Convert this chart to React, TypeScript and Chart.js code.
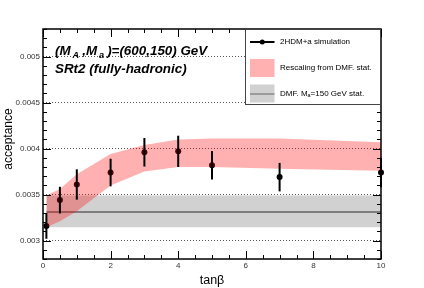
import React, { useEffect, useRef } from "react";
import { Chart, registerables } from "chart.js";

Chart.register(...registerables);

// ---- data ----
const tanBeta = [0.1, 0.5, 1, 2, 3, 4, 5, 7, 10];
const acceptance = [0.00316, 0.00344, 0.00361, 0.00374, 0.00396, 0.00397, 0.00382, 0.00369, 0.00374];
const acceptanceErr = [0.00014, 0.000145, 0.000165, 0.00015, 0.000155, 0.00017, 0.000155, 0.000155, 0.00016];
const rescaleUpper = [0.00349, 0.00356, 0.00372, 0.00394, 0.00404, 0.0041, 0.00411, 0.00411, 0.00407];
const rescaleLower = [0.003145, 0.00321, 0.00332, 0.0036, 0.00375, 0.0038, 0.0038, 0.00378, 0.00376];
const dmfX = [0.1, 10];
const dmfCenter = [0.00331, 0.00331];
const dmfUpper = [0.00349, 0.00349];
const dmfLower = [0.003145, 0.003145];
const xMajorTicks = [0, 2, 4, 6, 8, 10];
const yMajorTicks = [0.003, 0.0035, 0.004, 0.0045, 0.005];
const xMin = 0;
const xMax = 10;
const yMin = 0.0028;
const yMax = 0.0053;
const xMinorStep = 0.5;
const yMinorStep = 0.0001;

const FONT = '"Liberation Sans", Arial, Helvetica, sans-serif';

const pts = (xs: number[], ys: number[]) => xs.map((x, i) => ({ x, y: ys[i] }));

function drawRich(ctx: CanvasRenderingContext2D, parts: [string, boolean][], x: number, y: number, size: number, style: string, subGap = 0) {
  let cx = x;
  for (const [text, sub] of parts) {
    const s = sub ? size * 0.68 : size;
    ctx.font = `${style} ${s}px ${FONT}`;
    if (sub) cx += subGap * 0.4;
    ctx.fillText(text, cx, sub ? y + size * 0.28 : y);
    cx += ctx.measureText(text).width;
    if (sub) cx += subGap * 0.6;
  }
}

const rootStyle = {
  id: "rootStyle",
  afterDatasetsDraw(chart: any) {
    const { ctx, chartArea: a, scales } = chart;
    const xs = scales.x;
    const ys = scales.y;
    ctx.save();
    // error bars
    ctx.strokeStyle = "#000";
    ctx.lineWidth = 2;
    tanBeta.forEach((t, i) => {
      const px = xs.getPixelForValue(t);
      ctx.beginPath();
      ctx.moveTo(px, ys.getPixelForValue(acceptance[i] - acceptanceErr[i]));
      ctx.lineTo(px, ys.getPixelForValue(acceptance[i] + acceptanceErr[i]));
      ctx.stroke();
    });
    // frame
    ctx.lineWidth = 1.5;
    ctx.strokeRect(a.left, a.top, a.right - a.left, a.bottom - a.top);
    // ticks
    ctx.lineWidth = 1;
    ctx.strokeStyle = "#000";
    const kx0 = Math.ceil(xMin / xMinorStep - 1e-6);
    const kx1 = Math.floor(xMax / xMinorStep + 1e-6);
    for (let k = kx0; k <= kx1; k++) {
      const v = k * xMinorStep;
      const major = xMajorTicks.some((m) => Math.abs(m - v) < 1e-9);
      const len = major ? 8 : 4;
      const px = Math.round(xs.getPixelForValue(v)) + 0.5;
      ctx.beginPath();
      ctx.moveTo(px, a.bottom);
      ctx.lineTo(px, a.bottom - len);
      ctx.moveTo(px, a.top);
      ctx.lineTo(px, a.top + len);
      ctx.stroke();
    }
    const ky0 = Math.ceil(yMin / yMinorStep - 1e-6);
    const ky1 = Math.floor(yMax / yMinorStep + 1e-6);
    for (let k = ky0; k <= ky1; k++) {
      const v = k * yMinorStep;
      const major = yMajorTicks.some((m) => Math.abs(m - v) < 1e-9);
      const len = major ? 8 : 4;
      const py = Math.round(ys.getPixelForValue(v)) + 0.5;
      ctx.beginPath();
      ctx.moveTo(a.left, py);
      ctx.lineTo(a.left + len, py);
      ctx.moveTo(a.right, py);
      ctx.lineTo(a.right - len, py);
      ctx.stroke();
    }
    ctx.restore();
  },
  afterDraw(chart: any) {
    const { ctx, chartArea: a } = chart;
    ctx.save();
    // y-axis title
    ctx.save();
    ctx.translate(8.5, (a.top + a.bottom) / 2 - 5);
    ctx.rotate(-Math.PI / 2);
    ctx.textAlign = "center";
    ctx.textBaseline = "middle";
    ctx.fillStyle = "#000";
    ctx.font = `12px ${FONT}`;
    ctx.fillText("acceptance", 0, 0);
    ctx.restore();

    // annotation text
    ctx.fillStyle = "#000";
    ctx.textBaseline = "alphabetic";
    ctx.textAlign = "left";
    drawRich(ctx, [["(M", false], ["A", true], [",M", false], ["a", true], [")=(600,150) GeV", false]], a.left + 12, 54.5, 13.4, "italic bold", 5);
    drawRich(ctx, [["SRt2 (fully-hadronic)", false]], a.left + 12, 73, 13.4, "italic bold");

    // legend
    const lw = 136;
    const lh = 76;
    const lx = a.right - lw;
    const ly = a.top;
    ctx.fillStyle = "#fff";
    ctx.fillRect(lx, ly, lw, lh);
    ctx.strokeStyle = "#444";
    ctx.lineWidth = 1;
    ctx.strokeRect(lx + 0.5, ly + 0.5, lw - 1, lh - 1);

    const sx = lx + 5;
    const sw = 24.5;
    const tx = lx + 35;
    // item 1
    const y1 = ly + 13;
    ctx.strokeStyle = "#000";
    ctx.lineWidth = 2;
    ctx.beginPath();
    ctx.moveTo(sx, y1);
    ctx.lineTo(sx + sw, y1);
    ctx.stroke();
    ctx.fillStyle = "#000";
    ctx.beginPath();
    ctx.arc(sx + sw / 2, y1, 2.5, 0, Math.PI * 2);
    ctx.fill();
    ctx.textBaseline = "middle";
    drawRich(ctx, [["2HDM+a simulation", false]], tx, y1, 8, "normal");
    // item 2
    const y2 = ly + 39;
    ctx.fillStyle = "rgba(255,0,0,0.31)";
    ctx.fillRect(sx, y2 - 9, sw, 18);
    ctx.fillStyle = "#000";
    drawRich(ctx, [["Rescaling from DMF. stat.", false]], tx, y2, 8, "normal");
    // item 3
    const y3 = ly + 64.5;
    ctx.fillStyle = "rgba(0,0,0,0.18)";
    ctx.fillRect(sx, y3 - 9, sw, 18);
    ctx.strokeStyle = "#666";
    ctx.lineWidth = 1;
    ctx.beginPath();
    ctx.moveTo(sx, y3 + 0.5);
    ctx.lineTo(sx + sw, y3 + 0.5);
    ctx.stroke();
    ctx.fillStyle = "#000";
    drawRich(ctx, [["DMF. M", false], ["a", true], ["=150 GeV stat.", false]], tx, y3, 8, "normal");
    ctx.restore();
  },
};

export default function App() {
  const ref = useRef<HTMLCanvasElement | null>(null);
  useEffect(() => {
    document.body.style.margin = "0";
    const canvas = ref.current;
    if (!canvas) return;
    const band = { showLine: true, pointRadius: 0, pointHoverRadius: 0, borderWidth: 0, tension: 0 };
    const chart = new Chart(canvas, {
      type: "scatter",
      data: {
        datasets: [
          { ...band, label: "rescaleUpper", data: pts(tanBeta, rescaleUpper), fill: "+1", backgroundColor: "rgba(255,0,0,0.31)", borderColor: "rgba(0,0,0,0)" },
          { ...band, label: "rescaleLower", data: pts(tanBeta, rescaleLower), fill: false, borderColor: "rgba(0,0,0,0)" },
          { ...band, label: "dmfUpper", data: pts(dmfX, dmfUpper), fill: "+1", backgroundColor: "rgba(0,0,0,0.18)", borderColor: "rgba(0,0,0,0)" },
          { ...band, label: "dmfLower", data: pts(dmfX, dmfLower), fill: false, borderColor: "rgba(0,0,0,0)" },
          { ...band, label: "dmfCenter", data: pts(dmfX, dmfCenter), fill: false, borderColor: "#777", borderWidth: 1.5 },
          {
            label: "2HDM+a simulation",
            data: pts(tanBeta, acceptance),
            showLine: false,
            clip: false,
            pointRadius: 3,
            pointHoverRadius: 3,
            backgroundColor: "#000",
            borderColor: "#000",
            borderWidth: 0,
          },
        ],
      } as any,
      options: {
        responsive: false,
        animation: false,
        events: [],
        layout: { padding: { top: 29, right: 43, left: 0, bottom: 0 } },
        plugins: { legend: { display: false }, tooltip: { enabled: false } },
        scales: {
          x: {
            type: "linear",
            min: xMin,
            max: xMax,
            afterBuildTicks: (s: any) => {
              s.ticks = xMajorTicks.map((v) => ({ value: v }));
            },
            afterFit: (s: any) => {
              s.height = 29;
            },
            grid: { display: false, drawTicks: false },
            border: { display: false },
            ticks: { font: { size: 8, family: FONT }, color: "#333", padding: 2, maxRotation: 0, callback: (v: any) => String(v) },
            title: { display: true, text: "tanβ", font: { size: 12.5, family: FONT }, color: "#000", padding: 0 },
          },
          y: {
            type: "linear",
            min: yMin,
            max: yMax,
            afterBuildTicks: (s: any) => {
              s.ticks = yMajorTicks.map((v) => ({ value: v }));
            },
            afterFit: (s: any) => {
              s.width = 43;
            },
            grid: { color: "#555", lineWidth: 1, drawTicks: false },
            border: { display: false, dash: [1, 2] },
            ticks: {
              font: { size: 8, family: FONT },
              color: "#333",
              padding: 3,
              callback: (v: any) => parseFloat(Number(v).toFixed(4)).toString(),
            },
            title: { display: false },
          },
        },
      } as any,
      plugins: [rootStyle],
    });
    return () => chart.destroy();
  }, []);
  return (
    <div style={{ width: 424, height: 288 }}>
      <canvas ref={ref} width={424} height={288} style={{ width: 424, height: 288, display: "block" }} />
    </div>
  );
}
